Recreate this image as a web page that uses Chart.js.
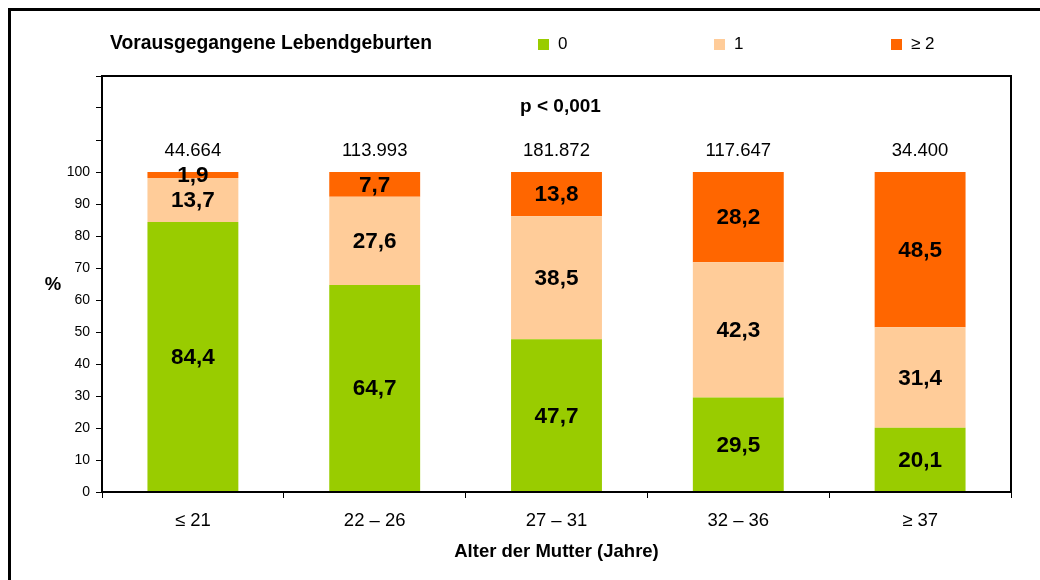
<!DOCTYPE html>
<html>
<head>
<meta charset="utf-8">
<script src="https://cdn.jsdelivr.net/npm/chart.js@4/dist/chart.umd.min.js"></script>
<style>
  html, body { margin: 0; padding: 0; background: #fff; }
  #wrap { position: relative; width: 1040px; height: 580px; }
</style>
</head>
<body>
<div id="wrap"><canvas id="c" width="1040" height="580"></canvas></div>
<script>
const categories = ['≤ 21', '22 – 26', '27 – 31', '32 – 36', '≥ 37'];
const seriesNames = ['0', '1', '≥ 2'];
const births0 = [84.4, 64.7, 47.7, 29.5, 20.1];
const births1 = [13.7, 27.6, 38.5, 42.3, 31.4];
const births2 = [1.9, 7.7, 13.8, 28.2, 48.5];
const totals = ['44.664', '113.993', '181.872', '117.647', '34.400'];
const legendTitle = 'Vorausgegangene Lebendgeburten';
const pValueText = 'p < 0,001';
const xTitle = 'Alter der Mutter (Jahre)';
const yTitle = '%';
const colors = ['#99CC00', '#FFCC99', '#FF6600'];

const FONT = '"Liberation Sans", Arial, "DejaVu Sans", sans-serif';

const fmt = v => v.toFixed(1).replace('.', ',');

const extras = {
  id: 'extras',
  afterDatasetsDraw(chart) {
    const ctx = chart.ctx;
    const ca = chart.chartArea;
    const ys = chart.scales.y;
    ctx.save();
    // segment value labels
    ctx.fillStyle = '#000';
    ctx.font = 'bold 22.5px ' + FONT;
    ctx.textAlign = 'center';
    ctx.textBaseline = 'middle';
    chart.data.datasets.forEach((ds, di) => {
      const meta = chart.getDatasetMeta(di);
      meta.data.forEach((el, i) => {
        const cy = (el.y + el.base) / 2;
        ctx.fillText(fmt(ds.data[i]), el.x, cy + 1);
      });
    });
    // totals above bars
    ctx.font = '18.5px ' + FONT;
    const meta0 = chart.getDatasetMeta(0);
    meta0.data.forEach((el, i) => {
      ctx.fillText(totals[i], el.x, ys.getPixelForValue(106.5));
    });
    // p-value
    ctx.font = 'bold 19px ' + FONT;
    ctx.fillText(pValueText, (ca.left + ca.right) / 2 + 4, ys.getPixelForValue(120.3));
    // plot frame
    ctx.strokeStyle = '#000';
    ctx.lineWidth = 2;
    ctx.strokeRect(ca.left, ca.top, ca.right - ca.left, ca.bottom - ca.top);
    ctx.restore();
  },
  afterDraw(chart) {
    const ctx = chart.ctx;
    const ca = chart.chartArea;
    ctx.save();
    // outer frame
    ctx.strokeStyle = '#000';
    ctx.lineWidth = 3;
    ctx.strokeRect(9.5, 9.5, 1100, 1100);
    ctx.fillStyle = '#000';
    // legend
    ctx.textBaseline = 'middle';
    ctx.textAlign = 'left';
    ctx.font = 'bold 19.3px ' + FONT;
    ctx.fillText(legendTitle, 110, 44);
    const markerX = [538, 714, 891];
    ctx.font = '17px ' + FONT;
    seriesNames.forEach((n, i) => {
      ctx.fillStyle = colors[i];
      ctx.fillRect(markerX[i], 39, 11, 11);
      ctx.fillStyle = '#000';
      ctx.fillText(n, markerX[i] + 20, 44);
    });
    // axis titles
    ctx.textAlign = 'center';
    ctx.font = 'bold 18.5px ' + FONT;
    ctx.fillText(xTitle, (ca.left + ca.right) / 2, 552);
    ctx.fillText(yTitle, 53, 285);
    ctx.restore();
  }
};

new Chart(document.getElementById('c'), {
  type: 'bar',
  data: {
    labels: categories,
    datasets: [
      { label: seriesNames[0], data: births0, backgroundColor: colors[0] },
      { label: seriesNames[1], data: births1, backgroundColor: colors[1] },
      { label: seriesNames[2], data: births2, backgroundColor: colors[2] }
    ]
  },
  options: {
    responsive: false,
    animation: false,
    layout: { padding: { top: 76, right: 29, left: 0, bottom: 0 } },
    datasets: { bar: { categoryPercentage: 1, barPercentage: 0.5, borderWidth: 0 } },
    plugins: { legend: { display: false }, tooltip: { enabled: false } },
    scales: {
      x: {
        stacked: true,
        offset: true,
        grid: { display: true, offset: true, drawOnChartArea: false, tickLength: 6, color: '#000', lineWidth: 1 },
        border: { display: true, color: '#000', width: 2 },
        ticks: { color: '#000', padding: 12, font: { family: FONT, size: 18.5 } },
        afterFit(s) { s.height = 88; }
      },
      y: {
        stacked: true,
        min: 0,
        max: 130,
        grid: { display: true, drawOnChartArea: false, tickLength: 6, color: '#000', lineWidth: 1 },
        border: { display: true, color: '#000', width: 2 },
        ticks: {
          stepSize: 10,
          color: '#000',
          padding: 6,
          font: { family: FONT, size: 14 },
          callback: v => (v <= 100 ? v : '')
        },
        afterFit(s) { s.width = 102; }
      }
    }
  },
  plugins: [extras]
});
</script>
</body>
</html>
